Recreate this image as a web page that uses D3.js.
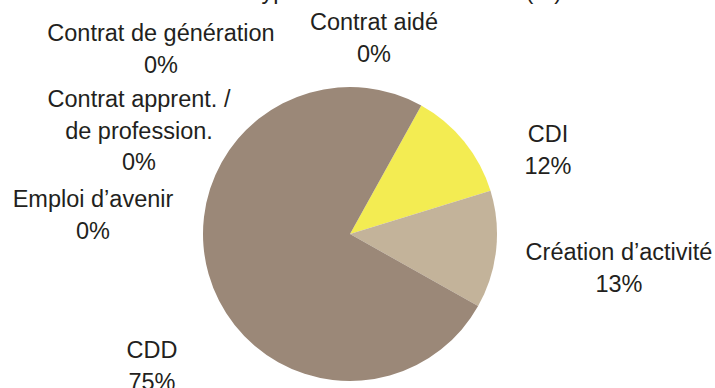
<!DOCTYPE html>
<html>
<head>
<meta charset="utf-8">
<script src="https://cdn.jsdelivr.net/npm/d3@7/dist/d3.min.js"></script>
<style>
  body { margin: 0; background: #fff; }
  svg { display: block; }
</style>
</head>
<body>
<div id="chart"></div>
<script>
// categories and values (percent), in drawing order clockwise
const categories = ['CDI', 'Création d’activité', 'CDD', 'Emploi d’avenir', 'Contrat apprent. / de profession.', 'Contrat de génération', 'Contrat aidé'];
const values = [12.2, 12.9, 74.9, 0, 0, 0, 0];
const colors = ['#f3ec52', '#c3b39a', '#9b8878', '#7f7f7f', '#bfbfbf', '#595959', '#d9d9d9'];
// label lines as shown in the picture
const labelLines = [['CDI'], ['Création d’activité'], ['CDD'], ['Emploi d’avenir'], ['Contrat apprent. /', 'de profession.'], ['Contrat de génération'], ['Contrat aidé']];
const labelAnchors = [[548, 134], [619, 252], [152, 350], [93, 199], [139, 99], [161, 33], [374, 22]];
const title = 'Type de contrat à la sortie (%)';

const width = 715, height = 388;
const cx = 350, cy = 234, radius = 147;
const startDeg = 29;

const svg = d3.select('#chart').append('svg')
  .attr('width', width)
  .attr('height', height);

const data = categories.map((c, i) => ({ name: c, value: values[i], color: colors[i], lines: labelLines[i], anchor: labelAnchors[i] }));

const pie = d3.pie()
  .sort(null)
  .value(d => d.value)
  .startAngle(startDeg * Math.PI / 180)
  .endAngle(startDeg * Math.PI / 180 + 2 * Math.PI);

const arc = d3.arc().innerRadius(0).outerRadius(radius);

const g = svg.append('g').attr('transform', `translate(${cx},${cy})`);

g.selectAll('path')
  .data(pie(data).filter(d => d.data.value > 0))
  .enter().append('path')
  .attr('d', arc)
  .attr('fill', d => d.data.color);

// title, almost entirely cut off above the frame
svg.append('text')
  .attr('x', 562)
  .attr('y', -1)
  .attr('text-anchor', 'end')
  .attr('font-family', 'Liberation Sans, Arial, sans-serif')
  .attr('font-size', 23.5)
  .attr('fill', '#231f20')
  .text(title);

const lineH = 31.5;
const labels = svg.selectAll('.pie-label')
  .data(data)
  .enter().append('text')
  .attr('class', 'pie-label')
  .attr('text-anchor', 'middle')
  .attr('font-family', 'Liberation Sans, Arial, sans-serif')
  .attr('font-size', 23.5)
  .attr('fill', '#231f20')
  .attr('dominant-baseline', 'central');

labels.each(function(d) {
  const t = d3.select(this);
  const lines = d.lines.concat([Math.round(d.value) + '%']);
  lines.forEach((ln, i) => {
    t.append('tspan')
      .attr('x', d.anchor[0])
      .attr('y', d.anchor[1] + i * lineH)
      .text(ln);
  });
});
</script>
</body>
</html>
